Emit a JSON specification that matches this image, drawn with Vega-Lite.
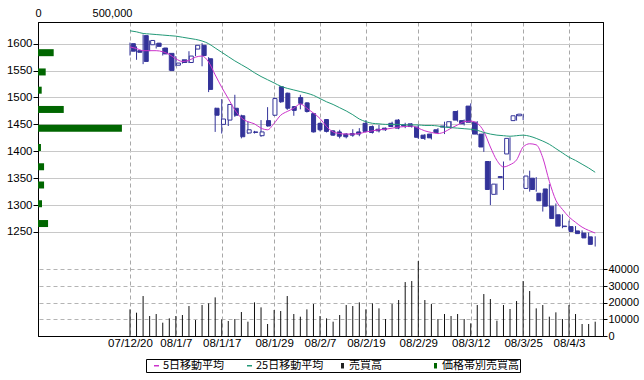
{
  "$schema": "https://vega.github.io/schema/vega-lite/v6.json",
  "width": 565,
  "height": 314,
  "autosize": {"type": "none"},
  "padding": {"left": 38, "top": 22, "right": 41, "bottom": 44},
  "background": "#ffffff",
  "config": {
    "view": {"stroke": "#000000", "strokeWidth": 1},
    "axis": {"labelFont": "Liberation Sans", "labelColor": "#000000", "tickColor": "#000000", "domainColor": "#000000", "labelFontWeight": "normal"}
  },
  "datasets": {
    "band": [
      {"price": 1591, "vol": 106000},
      {"price": 1554, "vol": 52000},
      {"price": 1519, "vol": 25000},
      {"price": 1482, "vol": 174000},
      {"price": 1446, "vol": 567000},
      {"price": 1409, "vol": 20000},
      {"price": 1372, "vol": 41000},
      {"price": 1337, "vol": 41000},
      {"price": 1301, "vol": 27000},
      {"price": 1263, "vol": 68000}
    ],
    "legend": [
      {"series": "5日移動平均"},
      {"series": "25日移動平均"},
      {"series": "売買高"},
      {"series": "価格帯別売買高"}
    ],
    "ohlc": [
      {"i": 0, "date": "07/12/20", "open": 1600, "high": 1602, "low": 1578, "close": 1586, "vol": 16000, "ma5": 1594, "ma25": 1624},
      {"i": 1, "date": "07/12/21", "open": 1587, "high": 1595, "low": 1570, "close": 1584, "vol": 14000, "ma5": 1591, "ma25": 1622},
      {"i": 2, "date": "07/12/25", "open": 1615, "high": 1617, "low": 1562, "close": 1567, "vol": 24000, "ma5": 1587, "ma25": 1619},
      {"i": 3, "date": "07/12/26", "open": 1598, "high": 1606, "low": 1586, "close": 1606, "vol": 12000, "ma5": 1587, "ma25": 1618},
      {"i": 4, "date": "07/12/27", "open": 1601, "high": 1601, "low": 1591, "close": 1595, "vol": 13200, "ma5": 1587, "ma25": 1617},
      {"i": 5, "date": "07/12/28", "open": 1592, "high": 1592, "low": 1578, "close": 1581, "vol": 8000, "ma5": 1585, "ma25": 1616},
      {"i": 6, "date": "08/1/4", "open": 1582, "high": 1583, "low": 1550, "close": 1550, "vol": 10600, "ma5": 1580, "ma25": 1615},
      {"i": 7, "date": "08/1/7", "open": 1560, "high": 1577, "low": 1558, "close": 1564, "vol": 12000, "ma5": 1572, "ma25": 1614},
      {"i": 8, "date": "08/1/8", "open": 1570, "high": 1571, "low": 1563, "close": 1565, "vol": 12600, "ma5": 1567, "ma25": 1612},
      {"i": 9, "date": "08/1/9", "open": 1565, "high": 1586, "low": 1564, "close": 1577, "vol": 18000, "ma5": 1569, "ma25": 1610},
      {"i": 10, "date": "08/1/10", "open": 1590, "high": 1597, "low": 1577, "close": 1597, "vol": 9600, "ma5": 1575, "ma25": 1608},
      {"i": 11, "date": "08/1/11", "open": 1597, "high": 1601, "low": 1558, "close": 1578, "vol": 18600, "ma5": 1577, "ma25": 1605},
      {"i": 12, "date": "08/1/15", "open": 1572, "high": 1575, "low": 1510, "close": 1515, "vol": 19600, "ma5": 1566, "ma25": 1600},
      {"i": 13, "date": "08/1/16", "open": 1480, "high": 1481, "low": 1436, "close": 1467, "vol": 23200, "ma5": 1542, "ma25": 1592},
      {"i": 14, "date": "08/1/17", "open": 1450, "high": 1497, "low": 1433, "close": 1460, "vol": 10000, "ma5": 1519, "ma25": 1584},
      {"i": 15, "date": "08/1/18", "open": 1458, "high": 1488, "low": 1447, "close": 1487, "vol": 9000, "ma5": 1498, "ma25": 1576},
      {"i": 16, "date": "08/1/21", "open": 1480, "high": 1505, "low": 1464, "close": 1467, "vol": 10200, "ma5": 1477, "ma25": 1568},
      {"i": 17, "date": "08/1/22", "open": 1466, "high": 1468, "low": 1424, "close": 1427, "vol": 14400, "ma5": 1462, "ma25": 1561},
      {"i": 18, "date": "08/1/23", "open": 1434, "high": 1455, "low": 1432, "close": 1440, "vol": 8600, "ma5": 1455, "ma25": 1554},
      {"i": 19, "date": "08/1/24", "open": 1436, "high": 1438, "low": 1433, "close": 1435, "vol": 20200, "ma5": 1451, "ma25": 1546},
      {"i": 20, "date": "08/1/25", "open": 1429, "high": 1458, "low": 1427, "close": 1436, "vol": 17200, "ma5": 1443, "ma25": 1539},
      {"i": 21, "date": "08/1/28", "open": 1457, "high": 1482, "low": 1446, "close": 1447, "vol": 7200, "ma5": 1440, "ma25": 1533},
      {"i": 22, "date": "08/1/29", "open": 1467, "high": 1500, "low": 1466, "close": 1498, "vol": 15600, "ma5": 1452, "ma25": 1527},
      {"i": 23, "date": "08/1/30", "open": 1520, "high": 1521, "low": 1490, "close": 1492, "vol": 15000, "ma5": 1467, "ma25": 1521},
      {"i": 24, "date": "08/1/31", "open": 1508, "high": 1509, "low": 1477, "close": 1480, "vol": 24000, "ma5": 1474, "ma25": 1517},
      {"i": 25, "date": "08/2/1", "open": 1483, "high": 1484, "low": 1466, "close": 1476, "vol": 13200, "ma5": 1480, "ma25": 1514},
      {"i": 26, "date": "08/2/4", "open": 1500, "high": 1505, "low": 1478, "close": 1489, "vol": 11600, "ma5": 1488, "ma25": 1511},
      {"i": 27, "date": "08/2/5", "open": 1490, "high": 1491, "low": 1472, "close": 1474, "vol": 16000, "ma5": 1480, "ma25": 1508},
      {"i": 28, "date": "08/2/6", "open": 1470, "high": 1471, "low": 1435, "close": 1436, "vol": 19200, "ma5": 1471, "ma25": 1504},
      {"i": 29, "date": "08/2/7", "open": 1452, "high": 1453, "low": 1437, "close": 1440, "vol": 12000, "ma5": 1461, "ma25": 1498},
      {"i": 30, "date": "08/2/8", "open": 1459, "high": 1460, "low": 1435, "close": 1437, "vol": 10600, "ma5": 1446, "ma25": 1492},
      {"i": 31, "date": "08/2/12", "open": 1438, "high": 1439, "low": 1429, "close": 1430, "vol": 8600, "ma5": 1436, "ma25": 1487},
      {"i": 32, "date": "08/2/13", "open": 1436, "high": 1440, "low": 1424, "close": 1428, "vol": 12600, "ma5": 1433, "ma25": 1481},
      {"i": 33, "date": "08/2/14", "open": 1432, "high": 1434, "low": 1424, "close": 1427, "vol": 18600, "ma5": 1432, "ma25": 1475},
      {"i": 34, "date": "08/2/15", "open": 1433, "high": 1441, "low": 1427, "close": 1430, "vol": 18000, "ma5": 1432, "ma25": 1468},
      {"i": 35, "date": "08/2/18", "open": 1436, "high": 1443, "low": 1428, "close": 1432, "vol": 20200, "ma5": 1433, "ma25": 1460},
      {"i": 36, "date": "08/2/19", "open": 1452, "high": 1458, "low": 1435, "close": 1437, "vol": 16000, "ma5": 1436, "ma25": 1455},
      {"i": 37, "date": "08/2/20", "open": 1446, "high": 1448, "low": 1433, "close": 1435, "vol": 19600, "ma5": 1438, "ma25": 1452},
      {"i": 38, "date": "08/2/21", "open": 1441, "high": 1449, "low": 1435, "close": 1438, "vol": 16600, "ma5": 1440, "ma25": 1451},
      {"i": 39, "date": "08/2/22", "open": 1443, "high": 1444, "low": 1438, "close": 1440, "vol": 10200, "ma5": 1441, "ma25": 1450},
      {"i": 40, "date": "08/2/25", "open": 1452, "high": 1455, "low": 1445, "close": 1446, "vol": 19200, "ma5": 1443, "ma25": 1450},
      {"i": 41, "date": "08/2/26", "open": 1458, "high": 1460, "low": 1441, "close": 1443, "vol": 21600, "ma5": 1445, "ma25": 1450},
      {"i": 42, "date": "08/2/27", "open": 1449, "high": 1453, "low": 1443, "close": 1447, "vol": 32400, "ma5": 1446, "ma25": 1449},
      {"i": 43, "date": "08/2/28", "open": 1451, "high": 1452, "low": 1444, "close": 1446, "vol": 33000, "ma5": 1447, "ma25": 1449},
      {"i": 44, "date": "08/2/29", "open": 1445, "high": 1449, "low": 1423, "close": 1426, "vol": 45000, "ma5": 1443, "ma25": 1449},
      {"i": 45, "date": "08/3/3", "open": 1430, "high": 1432, "low": 1421, "close": 1424, "vol": 21600, "ma5": 1438, "ma25": 1448},
      {"i": 46, "date": "08/3/4", "open": 1432, "high": 1433, "low": 1422, "close": 1425, "vol": 19200, "ma5": 1435, "ma25": 1448},
      {"i": 47, "date": "08/3/5", "open": 1440, "high": 1443, "low": 1432, "close": 1435, "vol": 10200, "ma5": 1433, "ma25": 1447},
      {"i": 48, "date": "08/3/6", "open": 1447, "high": 1455, "low": 1432, "close": 1445, "vol": 13200, "ma5": 1436, "ma25": 1445},
      {"i": 49, "date": "08/3/7", "open": 1445, "high": 1456, "low": 1443, "close": 1455, "vol": 12000, "ma5": 1443, "ma25": 1444},
      {"i": 50, "date": "08/3/10", "open": 1474, "high": 1476, "low": 1455, "close": 1458, "vol": 13200, "ma5": 1449, "ma25": 1443},
      {"i": 51, "date": "08/3/11", "open": 1457, "high": 1459, "low": 1448, "close": 1451, "vol": 10200, "ma5": 1455, "ma25": 1442},
      {"i": 52, "date": "08/3/12", "open": 1484, "high": 1489, "low": 1453, "close": 1454, "vol": 7600, "ma5": 1456, "ma25": 1441},
      {"i": 53, "date": "08/3/13", "open": 1454, "high": 1456, "low": 1430, "close": 1432, "vol": 18600, "ma5": 1452, "ma25": 1439},
      {"i": 54, "date": "08/3/14", "open": 1432, "high": 1434, "low": 1399, "close": 1408, "vol": 25200, "ma5": 1437, "ma25": 1435},
      {"i": 55, "date": "08/3/17", "open": 1381, "high": 1382, "low": 1300, "close": 1329, "vol": 22200, "ma5": 1408, "ma25": 1432},
      {"i": 56, "date": "08/3/18", "open": 1320, "high": 1340, "low": 1319, "close": 1339, "vol": 9200, "ma5": 1383, "ma25": 1430},
      {"i": 57, "date": "08/3/19", "open": 1353, "high": 1381, "low": 1328, "close": 1351, "vol": 18600, "ma5": 1371, "ma25": 1429},
      {"i": 58, "date": "08/3/21", "open": 1395, "high": 1426, "low": 1383, "close": 1424, "vol": 16200, "ma5": 1375, "ma25": 1428},
      {"i": 59, "date": "08/3/24", "open": 1457, "high": 1469, "low": 1457, "close": 1466, "vol": 21000, "ma5": 1384, "ma25": 1429},
      {"i": 60, "date": "08/3/25", "open": 1466, "high": 1469, "low": 1458, "close": 1469, "vol": 33000, "ma5": 1408, "ma25": 1430},
      {"i": 61, "date": "08/3/26", "open": 1331, "high": 1364, "low": 1325, "close": 1354, "vol": 27000, "ma5": 1414, "ma25": 1428},
      {"i": 62, "date": "08/3/27", "open": 1350, "high": 1352, "low": 1325, "close": 1329, "vol": 16600, "ma5": 1412, "ma25": 1424},
      {"i": 63, "date": "08/3/28", "open": 1322, "high": 1323, "low": 1288, "close": 1308, "vol": 18600, "ma5": 1388, "ma25": 1419},
      {"i": 64, "date": "08/3/31", "open": 1330, "high": 1339, "low": 1296, "close": 1298, "vol": 11600, "ma5": 1344, "ma25": 1413},
      {"i": 65, "date": "08/4/1", "open": 1298, "high": 1303, "low": 1260, "close": 1275, "vol": 14200, "ma5": 1309, "ma25": 1405},
      {"i": 66, "date": "08/4/2", "open": 1282, "high": 1283, "low": 1257, "close": 1261, "vol": 10200, "ma5": 1292, "ma25": 1397},
      {"i": 67, "date": "08/4/3", "open": 1261, "high": 1271, "low": 1254, "close": 1260, "vol": 18600, "ma5": 1278, "ma25": 1389},
      {"i": 68, "date": "08/4/4", "open": 1260, "high": 1261, "low": 1249, "close": 1251, "vol": 13200, "ma5": 1268, "ma25": 1383},
      {"i": 69, "date": "08/4/7", "open": 1252, "high": 1253, "low": 1243, "close": 1247, "vol": 7200, "ma5": 1259, "ma25": 1376},
      {"i": 70, "date": "08/4/8", "open": 1248, "high": 1249, "low": 1237, "close": 1239, "vol": 7200, "ma5": 1253, "ma25": 1369},
      {"i": 71, "date": "08/4/9", "open": 1241, "high": 1242, "low": 1223, "close": 1227, "vol": 8600, "ma5": 1248, "ma25": 1361}
    ]
  },
  "resolve": {"scale": {"x": "independent", "y": "independent"}},
  "layer": [
    {
      "data": {"name": "band"},
      "mark": {"type": "bar", "orient": "horizontal", "color": "#006600", "size": 7},
      "encoding": {
        "x": {"field": "vol", "type": "quantitative", "scale": {"domain": [0, 3817568], "nice": false, "zero": true},
          "axis": {"orient": "top", "values": [0, 500000], "format": ",d", "domain": true, "ticks": false, "tickSize": 0, "labelPadding": 6, "labelBaseline": "alphabetic", "grid": false, "title": null, "labelFontSize": 11, "labelFlush": false, "labelOverlap": false}},
        "y": {"field": "price", "type": "quantitative", "scale": {"domain": [1056.7, 1640.3], "nice": false, "zero": false}, "axis": null}
      }
    },
    {
      "data": {"name": "ohlc"},
      "mark": {"type": "rule", "color": "#333399", "strokeWidth": 1},
      "encoding": {
        "x": {"field": "i", "type": "quantitative", "scale": {"domain": [-14.04, 72.19], "nice": false, "zero": false},
          "axis": {"orient": "bottom", "values": [0, 7, 14, 22, 29, 36, 44, 52, 60, 67],
            "labelExpr": "['07/12/20','08/1/7','08/1/17','08/1/29','08/2/7','08/2/19','08/2/29','08/3/12','08/3/25','08/4/3'][indexof([0,7,14,22,29,36,44,52,60,67], datum.value)]",
            "grid": true, "gridColor": "#a8a8a8", "gridDash": [4, 3], "domain": true, "ticks": false, "tickSize": 0, "labelPadding": 1, "labelFontSize": 11.5, "title": null, "labelFlush": false, "labelOverlap": false}},
        "y": {"field": "low", "type": "quantitative", "scale": {"domain": [1056.7, 1640.3], "nice": false, "zero": false},
          "axis": {"orient": "left", "values": [1250, 1300, 1350, 1400, 1450, 1500, 1550, 1600], "format": "d", "grid": true, "gridColor": "#c8c8c8", "domain": true, "tickSize": 5, "labelPadding": 1, "title": null, "labelFontSize": 11.5}},
        "y2": {"field": "high"}
      }
    },
    {
      "data": {"name": "ohlc"},
      "mark": {"type": "bar", "size": 4, "stroke": "#333399", "strokeWidth": 1},
      "encoding": {
        "x": {"field": "i", "type": "quantitative", "scale": {"domain": [-14.04, 72.19], "nice": false, "zero": false}, "axis": null},
        "y": {"field": "open", "type": "quantitative", "scale": {"domain": [1056.7, 1640.3], "nice": false, "zero": false}, "axis": null},
        "y2": {"field": "close"},
        "fill": {"condition": {"test": "datum.close > datum.open", "value": "#ffffff"}, "value": "#333399"}
      }
    },
    {
      "data": {"name": "ohlc"},
      "mark": {"type": "line", "color": "#cc33cc", "strokeWidth": 1, "interpolate": "monotone"},
      "encoding": {
        "x": {"field": "i", "type": "quantitative", "scale": {"domain": [-14.04, 72.19], "nice": false, "zero": false}, "axis": null},
        "y": {"field": "ma5", "type": "quantitative", "scale": {"domain": [1056.7, 1640.3], "nice": false, "zero": false}, "axis": null}
      }
    },
    {
      "data": {"name": "ohlc"},
      "mark": {"type": "line", "color": "#229977", "strokeWidth": 1, "interpolate": "monotone"},
      "encoding": {
        "x": {"field": "i", "type": "quantitative", "scale": {"domain": [-14.04, 72.19], "nice": false, "zero": false}, "axis": null},
        "y": {"field": "ma25", "type": "quantitative", "scale": {"domain": [1056.7, 1640.3], "nice": false, "zero": false}, "axis": null}
      }
    },
    {
      "data": {"name": "ohlc"},
      "mark": {"type": "rule", "color": "#111111", "strokeWidth": 1},
      "encoding": {
        "x": {"field": "i", "type": "quantitative", "scale": {"domain": [-14.04, 72.19], "nice": false, "zero": false}, "axis": null},
        "y": {"field": "vol", "type": "quantitative", "scale": {"domain": [0, 188589], "nice": false, "zero": true},
          "axis": {"orient": "right", "values": [0, 10000, 20000, 30000, 40000], "format": "d", "grid": true, "gridColor": "#b4b4b4", "gridDash": [4, 3], "domain": true, "tickSize": 4, "labelPadding": 1, "title": null, "labelFontSize": 11}},
        "y2": {"datum": 0}
      }
    },
    {
      "data": {"name": "legend"},
      "mark": {"type": "point", "filled": false, "opacity": 0},
      "encoding": {
        "color": {"field": "series", "type": "nominal",
          "scale": {"domain": ["5日移動平均", "25日移動平均", "売買高", "価格帯別売買高"], "range": ["#cc33cc", "#229977", "#222222", "#006600"]},
          "legend": {"orient": "none", "legendX": 108, "legendY": 337, "direction": "horizontal", "columns": 4, "gridAlign": "all", "columnPadding": 0, "title": null,
            "strokeColor": "#000000", "padding": 1, "labelFont": "Noto Sans CJK JP", "labelFontSize": 11, "labelColor": "#000000", "labelOffset": 1, "symbolOffset": 4, "symbolSize": 25, "symbolOpacity": 1, "symbolStrokeWidth": 1.5}},
        "shape": {"field": "series", "type": "nominal",
          "scale": {"domain": ["5日移動平均", "25日移動平均", "売買高", "価格帯別売買高"], "range": ["stroke", "stroke", "M-0.3,-0.8H0.3V0.8H-0.3Z", "M-0.3,-0.8H0.3V0.8H-0.3Z"]},
          "legend": {"orient": "none", "legendX": 108, "legendY": 337, "direction": "horizontal", "columns": 4, "gridAlign": "all", "columnPadding": 0, "title": null,
            "strokeColor": "#000000", "padding": 1, "labelFont": "Noto Sans CJK JP", "labelFontSize": 11, "labelColor": "#000000", "labelOffset": 1, "symbolOffset": 4, "symbolSize": 25, "symbolOpacity": 1, "symbolStrokeWidth": 1.5}}
      }
    }
  ]
}
